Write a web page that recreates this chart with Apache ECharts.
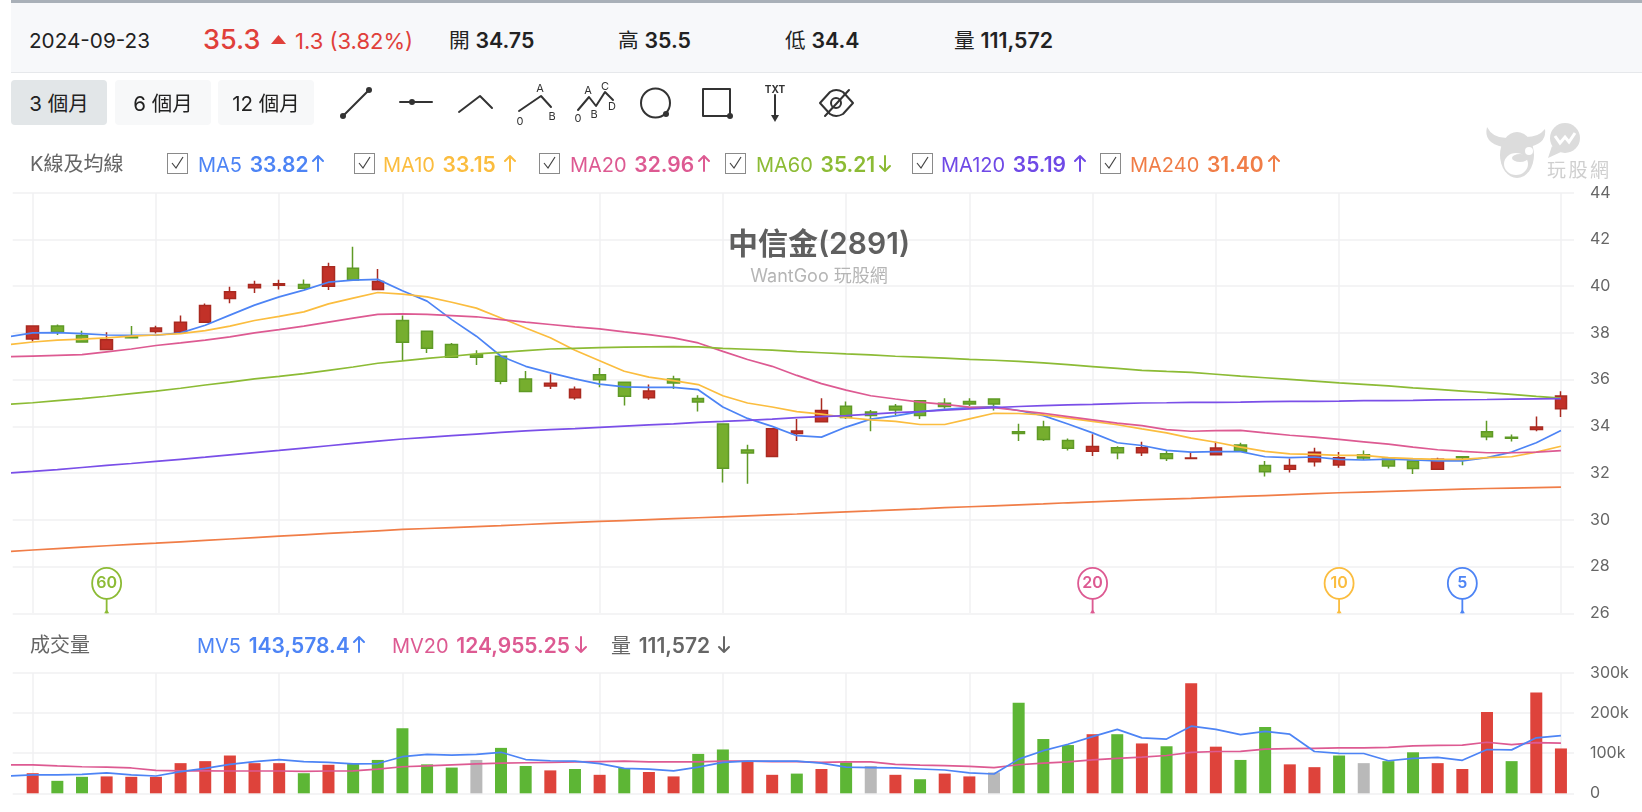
<!DOCTYPE html>
<html lang="zh-Hant">
<head>
<meta charset="utf-8">
<title>中信金(2891) K線</title>
<script src="https://cdn.jsdelivr.net/npm/echarts@6/dist/echarts.min.js"></script>
<style>
  html, body { margin: 0; padding: 0; background: #fff; }
  body { width: 1642px; height: 812px; position: relative; overflow: hidden;
         font-family: Inter, "Noto Sans CJK TC", sans-serif; color: #333; }
  #chart { position: absolute; left: 0; top: 0; width: 1642px; height: 812px; }
  .bar { position: absolute; left: 11px; right: 0; top: 3px; height: 69px; background: #f7f8fa; border-bottom: 1px solid #e6e8eb; }
  .rule { position: absolute; left: 11px; right: 0; top: 0; height: 3px; background: #a9b0b8; }
  .t { position: absolute; white-space: nowrap; line-height: 1; }
  .q { font-size: 20.7px; color: #222; transform: translateY(-50%); }
  .q b { font-weight: 600; font-size: 21.3px; }
  .l b { font-weight: 600; font-size: 21px; margin-left: 2px; }
  .btn { position: absolute; top: 80px; height: 45px; width: 96px; border-radius: 4px; background: #f7f8f9;
         font-size: 20.5px; line-height: 47px; text-align: center; color: #222; }
  .btn.on { background: #e2e6e8; }
  .l { font-size: 20px; transform: translateY(-50%); }
  .box { position: absolute; width: 19px; height: 19px; top: 153px; border: 1px solid #8a8a8a; background: #fff; }
  svg { position: absolute; left: 0; top: 0; }
</style>
</head>
<body>
<div id="chart"></div>

<div class="rule"></div>
<div class="bar"></div>
<div class="t q" style="left:29px;top:41px">2024-09-23</div>
<div class="t q" style="left:203px;top:39px;font-size:27px;color:#e0403a;font-weight:500">35.3</div>
<div class="t q" style="left:295px;top:41px;color:#e0403a;font-size:22px">1.3 (3.82%)</div>
<div class="t q" style="left:449px;top:41px">開 <b>34.75</b></div>
<div class="t q" style="left:618px;top:41px">高 <b>35.5</b></div>
<div class="t q" style="left:785px;top:41px">低 <b>34.4</b></div>
<div class="t q" style="left:954px;top:41px">量 <b>111,572</b></div>

<div class="btn on" style="left:11px">3 個月</div>
<div class="btn" style="left:115px">6 個月</div>
<div class="btn" style="left:218px">12 個月</div>

<div class="t l" style="left:30px;top:164px;color:#666">K線及均線</div>
<div class="box" style="left:167px"></div>
<div class="t l" style="left:198px;top:164px;color:#4d84f5">MA5 <b>33.82</b></div>
<div class="box" style="left:354px"></div>
<div class="t l" style="left:383px;top:164px;color:#fbbd3f">MA10 <b>33.15</b></div>
<div class="box" style="left:539px"></div>
<div class="t l" style="left:570px;top:164px;color:#dd5a92">MA20 <b>32.96</b></div>
<div class="box" style="left:725px"></div>
<div class="t l" style="left:756px;top:164px;color:#8cbb35">MA60 <b>35.21</b></div>
<div class="box" style="left:912px"></div>
<div class="t l" style="left:941px;top:164px;color:#6f49e6">MA120 <b>35.19</b></div>
<div class="box" style="left:1100px"></div>
<div class="t l" style="left:1130px;top:164px;color:#f07d47">MA240 <b>31.40</b></div>

<div class="t l" style="left:30px;top:645px;color:#666">成交量</div>
<div class="t l" style="left:197px;top:645px;color:#4d84f5">MV5 <b>143,578.4</b></div>
<div class="t l" style="left:392px;top:645px;color:#dd5a92">MV20 <b>124,955.25</b></div>
<div class="t l" style="left:611px;top:645px;color:#666">量 <b>111,572</b></div>

<svg width="1642" height="812" fill="none">
  <!-- price change marker -->
  <path d="M271 44 L286 44 L278.5 35 Z" fill="#e0403a"/>

  <!-- drawing tools -->
  <g stroke="#333" stroke-width="2" stroke-linecap="round" stroke-linejoin="round">
    <path d="M343 116 L369 90"/>
    <path d="M400 102 H432"/>
    <path d="M459 112 L480 96 L492 108"/>
    <path d="M519 111 L541 96 L551 107"/>
    <path d="M578 110 L589 97 L596 106 L605 92 L613 100"/>
    <circle cx="655.5" cy="103" r="14.5"/>
    <rect x="703" y="89" width="27" height="27"/>
    <path d="M775 95 V118"/>
    <path d="M820 103 L830 92 Q836 88 843 92 L853 103 L843 114 Q836 118 830 114 Z"/>
    <path d="M825 116 L849 90"/>
    <circle cx="836" cy="103" r="5"/>
  </g>
  <g fill="#333">
    <circle cx="343" cy="116" r="3"/><circle cx="369" cy="90" r="3"/>
    <circle cx="412" cy="102" r="3"/>
    <circle cx="666" cy="114" r="3"/><circle cx="730" cy="116" r="3"/>
    <path d="M771 115 H779 L775 122 Z"/>
  </g>
  <g fill="#333" font-size="11" font-family="Inter, sans-serif" text-anchor="middle">
    <text x="540" y="92">A</text><text x="552" y="120">B</text><text x="520" y="125">0</text>
    <text x="588" y="94">A</text><text x="605" y="90">C</text><text x="594" y="118">B</text><text x="612" y="110">D</text><text x="578" y="122">0</text>
    <text x="775" y="93" font-size="10" font-weight="700">TXT</text>
  </g>

  <!-- legend checks -->
  <g stroke="#444" stroke-width="1.2">
    <path d="M172 163 L176 168 L183 157"/><path d="M359 163 L363 168 L370 157"/>
    <path d="M544 163 L548 168 L555 157"/><path d="M730 163 L734 168 L741 157"/>
    <path d="M917 163 L921 168 L928 157"/><path d="M1105 163 L1109 168 L1116 157"/>
  </g>

  <!-- trend arrows next to the values -->
  <g stroke-width="2" stroke-linecap="round" stroke-linejoin="round">
    <path d="M318 171 V156 M313 161 L318 156 L323 161" stroke="#4d84f5"/>
    <path d="M510 171 V156 M505 161 L510 156 L515 161" stroke="#fbbd3f"/>
    <path d="M704 171 V156 M699 161 L704 156 L709 161" stroke="#dd5a92"/>
    <path d="M885 156 V171 M880 166 L885 171 L890 166" stroke="#8cbb35"/>
    <path d="M1080 171 V156 M1075 161 L1080 156 L1085 161" stroke="#6f49e6"/>
    <path d="M1274 171 V156 M1269 161 L1274 156 L1279 161" stroke="#f07d47"/>
    <path d="M359 652 V637 M354 642 L359 637 L364 642" stroke="#4d84f5"/>
    <path d="M581 637 V652 M576 647 L581 652 L586 647" stroke="#dd5a92"/>
    <path d="M724 637 V652 M719 647 L724 652 L729 647" stroke="#666"/>
  </g>

  <!-- brand mark -->
  <g fill="#dcdcdc">
    <path d="M1487 127 Q1483 143 1503 147 L1509 138 Q1493 139 1487 127 Z"/>
    <path d="M1545 129 Q1547 144 1528 147 L1523 137 Q1538 138 1545 129 Z"/>
    <ellipse cx="1517" cy="155" rx="17" ry="23"/>
    <circle cx="1565" cy="138" r="15"/>
    <path d="M1552 146 L1548 158 L1561 152 Z"/>
  </g>
  <ellipse cx="1516" cy="164" rx="12" ry="11" fill="#fff"/>
  <ellipse cx="1520" cy="158" rx="8" ry="4" fill="#dcdcdc"/>
  <circle cx="1529" cy="151" r="4" fill="#fff"/>
  <path d="M1555 136 L1560 143 L1565 137 L1569 142 L1575 133" stroke="#fff" stroke-width="3"/>
  <text x="1547" y="177" fill="#cfcfcf" font-size="19" letter-spacing="2.5" font-family="'Noto Sans CJK TC', sans-serif">玩股網</text>
</svg>

<script>
// Daily candles, oldest first (3 months up to 2024-09-23)
const opens = [37.74,38.29,37.89,37.29,37.86,38.06,38.03,38.46,39.47,39.93,40.04,40.07,40.0,40.77,39.86,38.53,38.07,37.5,37.07,37.0,36.03,35.73,35.23,36.21,35.89,35.23,36.03,35.19,34.1,32.99,32.71,33.69,34.2,34.86,34.61,34.86,35.1,34.99,35.06,35.17,33.77,33.97,33.39,32.93,33.08,32.87,32.83,32.62,32.79,33.2,32.32,32.17,32.49,32.35,32.79,32.59,32.52,32.17,32.7,33.77,33.53,33.87,34.75];
const closes = [38.29,38.03,37.61,37.71,37.79,38.21,38.46,39.17,39.76,40.07,40.1,39.91,40.83,40.26,40.2,37.6,37.34,36.96,36.96,35.93,35.49,35.84,35.59,36.0,35.29,35.51,35.86,35.04,32.21,32.86,33.9,33.8,34.68,34.38,34.46,34.7,34.46,34.85,34.96,34.96,33.7,33.44,33.06,33.14,32.87,33.08,32.62,32.65,33.07,32.94,32.06,32.32,32.89,32.66,32.65,32.3,32.2,32.59,32.66,33.56,33.49,33.97,35.3];
const lows = [37.63,37.91,37.61,37.29,37.79,37.97,38.03,38.46,39.27,39.71,39.86,39.91,39.84,40.26,39.86,36.8,37.14,36.96,36.63,35.8,35.49,35.6,35.14,35.67,34.89,35.14,35.6,34.64,31.6,31.54,32.71,33.37,34.2,34.31,33.79,34.49,34.31,34.75,34.87,34.68,33.37,33.37,32.97,32.73,32.59,32.73,32.52,32.62,32.79,32.94,31.85,32.03,32.28,32.23,32.56,32.2,31.96,32.17,32.34,33.41,33.35,33.79,34.4];
const highs = [38.29,38.36,38.09,38.03,38.29,38.31,38.74,39.26,39.97,40.23,40.27,40.29,41.0,41.69,40.74,38.74,38.07,37.57,37.26,37.0,36.37,36.23,35.71,36.5,35.89,35.79,36.17,35.33,34.1,33.21,33.9,34.31,35.2,35.06,34.7,34.96,35.1,35.2,35.2,35.17,34.11,34.24,33.48,33.66,33.15,33.34,32.97,32.9,33.34,33.3,32.52,32.62,33.08,32.9,32.97,32.59,32.52,32.66,32.7,34.24,33.65,34.42,35.5];

// Moving averages; the first entry belongs to the session before the visible window
const ma5 = [37.83,38.0,38.01,37.97,37.91,37.9,37.9,38.0,38.33,38.76,39.19,39.54,39.83,40.17,40.26,40.29,39.8,39.36,38.57,37.86,37.0,36.57,36.29,36.03,35.81,35.69,35.67,35.67,35.57,34.83,34.34,34.0,33.6,33.54,33.97,34.31,34.45,34.63,34.73,34.8,34.85,34.68,34.46,34.1,33.72,33.3,33.18,32.97,32.9,32.92,32.92,32.7,32.66,32.69,32.59,32.56,32.6,32.56,32.52,32.52,32.66,32.9,33.3,33.82];
const ma10 = [37.5,37.61,37.69,37.73,37.79,37.86,37.91,37.97,38.1,38.29,38.53,38.71,38.9,39.24,39.49,39.73,39.66,39.54,39.31,39.06,38.64,38.21,37.79,37.26,36.81,36.36,36.11,35.96,35.79,35.31,35.0,34.83,34.63,34.52,34.38,34.28,34.21,34.08,34.08,34.32,34.56,34.55,34.49,34.35,34.21,34.07,33.89,33.72,33.5,33.32,33.11,32.93,32.82,32.8,32.76,32.76,32.66,32.62,32.59,32.59,32.66,32.7,32.9,33.15];
const ma20 = [36.98,37.01,37.04,37.07,37.19,37.31,37.46,37.57,37.69,37.83,38.0,38.14,38.29,38.46,38.63,38.79,38.81,38.79,38.74,38.69,38.57,38.46,38.36,38.26,38.17,38.04,37.93,37.79,37.57,37.21,36.86,36.57,36.18,35.83,35.55,35.31,35.17,35.04,34.94,34.82,34.8,34.68,34.56,34.42,34.28,34.14,34.03,33.86,33.79,33.82,33.83,33.72,33.62,33.54,33.44,33.34,33.24,33.11,33.0,32.93,32.87,32.87,32.9,32.96];
const ma60 = [34.94,35.01,35.1,35.19,35.29,35.4,35.51,35.63,35.77,35.89,36.03,36.14,36.26,36.4,36.54,36.7,36.8,36.91,37.0,37.1,37.17,37.24,37.31,37.34,37.37,37.39,37.4,37.41,37.4,37.34,37.3,37.26,37.2,37.15,37.1,37.06,37.0,36.96,36.92,36.87,36.83,36.78,36.72,36.64,36.56,36.48,36.4,36.35,36.31,36.23,36.15,36.08,36.01,35.94,35.86,35.8,35.73,35.65,35.58,35.51,35.44,35.37,35.28,35.21];
const ma120 = [32.0,32.07,32.15,32.24,32.33,32.41,32.5,32.59,32.68,32.78,32.88,32.97,33.07,33.17,33.27,33.37,33.46,33.53,33.6,33.67,33.74,33.81,33.86,33.9,33.96,34.01,34.06,34.11,34.17,34.21,34.26,34.31,34.37,34.42,34.46,34.52,34.59,34.63,34.69,34.75,34.8,34.85,34.89,34.92,34.94,34.97,35.0,35.01,35.03,35.03,35.04,35.06,35.07,35.07,35.08,35.1,35.1,35.11,35.13,35.14,35.15,35.17,35.18,35.19];
const ma240 = [28.64,28.71,28.77,28.83,28.89,28.95,29.0,29.06,29.12,29.18,29.24,29.3,29.36,29.42,29.47,29.53,29.59,29.63,29.67,29.71,29.75,29.8,29.85,29.89,29.93,29.97,30.01,30.05,30.09,30.13,30.17,30.21,30.25,30.3,30.34,30.38,30.43,30.47,30.52,30.56,30.6,30.64,30.68,30.73,30.77,30.81,30.85,30.89,30.92,30.96,31.0,31.04,31.08,31.12,31.16,31.19,31.22,31.25,31.28,31.31,31.34,31.36,31.38,31.4];

// Traded volume and its direction: r up, g down, n unchanged
const volumes = [50000,31000,41000,42000,41000,41000,75000,80000,94000,75000,75000,50000,71000,73000,83000,162000,72000,64000,83000,113000,68000,57000,60500,46000,63000,53000,42000,98000,109000,79000,46000,49000,60500,77000,68000,46000,35000,49000,42000,52000,225000,135000,120000,147000,147000,124000,117000,274000,116000,83000,165000,72000,65000,94000,75000,80000,102000,75000,60500,202000,80000,251000,111572];
const volumeMoves = ['r','g','g','r','r','r','r','r','r','r','r','g','r','g','g','g','g','g','n','g','g','r','g','r','g','r','r','g','g','r','r','g','r','g','n','r','g','r','r','n','g','g','g','r','g','r','g','r','r','g','g','r','r','g','n','g','g','r','r','r','g','r','r'];
const mv5 = [43000,46000,46000,47000,51000,46000,43000,54000,62000,72000,79000,84000,79000,77000,73000,74000,91000,97000,95000,97000,102000,84000,81000,80000,74000,62000,60000,56000,65000,77000,80000,80000,80000,75000,65000,64000,63000,60500,58000,51000,48000,85000,106000,122000,141000,159000,138000,135000,167000,159000,146000,154000,147000,104000,99500,99000,81000,87000,89500,82000,109000,108000,138000,143578.4];
const mv20 = [70500,70500,68000,66000,65000,63000,57000,56000,56000,55500,55500,55500,54700,55500,56000,60000,66000,68000,70500,73000,75000,76000,77000,78000,79000,80000,78000,78000,78000,80000,80000,79000,79000,77000,78000,78000,72000,70000,69000,67000,64000,71000,75000,78000,83000,87000,90000,94000,102000,104000,104500,110000,111000,112000,113000,113000,114000,118000,119000,120000,127000,121000,126000,124955.25];

// Sessions carrying a vertical guide (week starts)
const guideSessions = [0,5,10,15,23,28,33,38,43,48,53,62];

// Balloons pinned at the session each average last turned on
const pinSessions = [3,43,53,58];
const pinLabels = ['60','20','10','5'];
const pinColors = ['#8cbb35','#dd5a92','#fbbd3f','#4d84f5'];

const priceTicks = { min: 26, max: 44, step: 2 };
const volumeTicks = { min: 0, max: 300000, step: 100000 };

const GRID_LINE = '#f1f1f2';
const xRange = { min: -0.811, max: 62.53 };

const pairUp = (arr, firstIndex) => arr.map((v, i) => [i + firstIndex, v]);

const lineSeries = (name, data, color, axis) => ({
  name, type: 'line', xAxisIndex: axis, yAxisIndex: axis,
  data: pairUp(data, -1), showSymbol: false, silent: true,
  lineStyle: { color, width: 1.7 }, animation: false, z: 5
});

const volumeColors = { r: '#de433b', g: '#5db635', n: '#b9b9b9' };

const xAxisBase = gridIndex => ({
  type: 'value', gridIndex, min: xRange.min, max: xRange.max,
  axisLine: { show: false },
  axisLabel: { show: false },
  axisTick: { show: false, customValues: guideSessions },
  splitLine: { show: true, lineStyle: { color: GRID_LINE, width: 1.5 } }
});

const yAxisBase = gridIndex => ({
  type: 'value', gridIndex, position: 'right', scale: false,
  axisLine: { show: false }, axisTick: { show: false },
  axisLabel: { color: '#666', fontSize: 16, fontFamily: 'Inter, sans-serif', margin: 16, padding: [3, 0, 0, 0] },
  splitLine: { show: true, lineStyle: { color: GRID_LINE, width: 1.5 } }
});

const chart = echarts.init(document.getElementById('chart'), null, { renderer: 'canvas' });
chart.setOption({
  animation: false,
  backgroundColor: '#fff',
  title: {
    text: '中信金(2891)', subtext: 'WantGoo 玩股網',
    left: 814, top: 225, textAlign: 'center', itemGap: 8,
    textStyle: { color: '#5f5f5f', fontSize: 30, fontWeight: 600, fontFamily: 'Inter, "Noto Sans CJK TC", sans-serif' },
    subtextStyle: { color: '#b5b5b5', fontSize: 18, fontFamily: 'Inter, "Noto Sans CJK TC", sans-serif' }
  },
  grid: [
    { left: 12.7, width: 1561.3, top: 192.7, height: 420.6 },
    { left: 12.7, width: 1561.3, top: 672.7, height: 120.6 }
  ],
  xAxis: [xAxisBase(0), xAxisBase(1)],
  yAxis: [
    { ...yAxisBase(0), min: priceTicks.min, max: priceTicks.max, interval: priceTicks.step },
    { ...yAxisBase(1), min: volumeTicks.min, max: volumeTicks.max, interval: volumeTicks.step,
      axisLabel: { ...yAxisBase(1).axisLabel, formatter: v => (v ? v / 1000 + 'k' : '0') } }
  ],
  series: [
    {
      type: 'candlestick', xAxisIndex: 0, yAxisIndex: 0, barWidth: 12, z: 3,
      data: opens.map((o, i) => [i, o, closes[i], lows[i], highs[i]]),
      itemStyle: { color: '#c23128', color0: '#76ae2e', borderColor: '#a92a20', borderColor0: '#5f9a26', borderWidth: 1.5 }
    },
    lineSeries('MA5', ma5, '#4d84f5', 0),
    lineSeries('MA10', ma10, '#fbbd3f', 0),
    lineSeries('MA20', ma20, '#dd5a92', 0),
    lineSeries('MA60', ma60, '#8cbb35', 0),
    lineSeries('MA120', ma120, '#7a4fe8', 0),
    lineSeries('MA240', ma240, '#f07d47', 0),
    {
      type: 'custom', xAxisIndex: 0, yAxisIndex: 0, z: 6, clip: false,
      encode: { x: 0, y: 1 },
      data: pinSessions.map((s, i) => [s, priceTicks.min, i]),
      renderItem(params, api) {
        const [x, y] = api.coord([api.value(0), api.value(1)]);
        const k = api.value(2);
        const color = pinColors[k];
        return {
          type: 'group',
          children: [
            { type: 'line', shape: { x1: x, y1: y - 15, x2: x, y2: y }, style: { stroke: color, lineWidth: 1.8 } },
            { type: 'polygon', shape: { points: [[x - 2.5, y], [x + 2.5, y], [x, y - 4]] }, style: { fill: color } },
            { type: 'ellipse', shape: { cx: x, cy: y - 30, rx: 14.5, ry: 15.5 }, style: { fill: '#fff', stroke: color, lineWidth: 1.8 } },
            { type: 'text', x, y: y - 30, style: { text: pinLabels[k], fill: color, align: 'center', verticalAlign: 'middle', font: '600 16px Inter, sans-serif' } }
          ]
        };
      }
    },
    {
      type: 'bar', xAxisIndex: 1, yAxisIndex: 1, barWidth: 12, z: 3,
      data: volumes.map((v, i) => ({ value: [i, v], itemStyle: { color: volumeColors[volumeMoves[i]] } }))
    },
    lineSeries('MV20', mv20, '#dd5a92', 1),
    lineSeries('MV5', mv5, '#4d84f5', 1)
  ]
});
</script>
</body>
</html>
